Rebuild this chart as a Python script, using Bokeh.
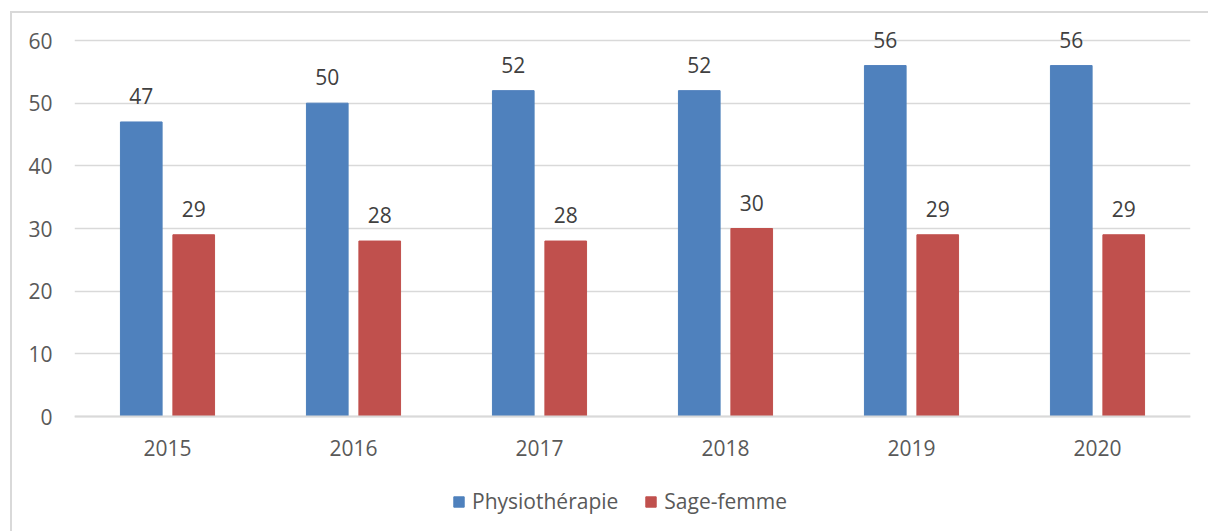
from bokeh.plotting import figure
from bokeh.models import ColumnDataSource, FactorRange, Range1d, LabelSet, Legend, LegendItem
from bokeh.core.properties import value
from bokeh.transform import dodge
from bokeh.embed import file_html
from bokeh.resources import INLINE

years = ["2015", "2016", "2017", "2018", "2019", "2020"]
physio = [47, 50, 52, 52, 56, 56]
sage = [29, 28, 28, 30, 29, 29]
y_ticks = [0, 10, 20, 30, 40, 50, 60]

FONT = "Open Sans"
FS = "21px"
BLUE = "#4F81BD"
RED = "#C0504D"
GRID = "#D9D9D9"

src = ColumnDataSource(dict(
    years=years, physio=physio, sage=sage,
    physio_lbl=[str(v) for v in physio], sage_lbl=[str(v) for v in sage],
))

bg = ("linear-gradient(#D9D9D9,#D9D9D9) 10px 11px / 2px 100% no-repeat, "
      "linear-gradient(#D9D9D9,#D9D9D9) 10px 11px / 100% 2px no-repeat")

PX = 376 / 60  # pixels per unit
p = figure(
    x_range=FactorRange(factors=years, range_padding=0),
    y_range=Range1d(-(531 - 416) / PX, (416 - 9) / PX),
    width=1208, height=531,
    output_backend="svg", toolbar_location=None,
    min_border_left=74, min_border_right=18, min_border_top=9, min_border_bottom=0,
    styles={"background": bg},
)
p.outline_line_color = None
p.border_fill_color = None
p.background_fill_color = None

r1 = p.vbar(x=dodge("years", -0.141, range=p.x_range), top="physio", width=0.224,
            source=src, fill_color=BLUE, line_color=BLUE)
r2 = p.vbar(x=dodge("years", 0.141, range=p.x_range), top="sage", width=0.224,
            source=src, fill_color=RED, line_color=RED)

for col, lbl, off in (("physio", "physio_lbl", -0.141), ("sage", "sage_lbl", 0.141)):
    ls = LabelSet(x=dodge("years", off, range=p.x_range), y=col, text=lbl, source=src,
                  text_align="center", text_baseline="alphabetic", y_offset=18,
                  text_font=value(FONT), text_font_size=FS, text_color="#404040")
    p.add_layout(ls)

p.yaxis.ticker = y_ticks
p.yaxis.axis_line_color = None
p.yaxis.major_tick_line_color = None
p.yaxis.minor_tick_line_color = None
p.yaxis.major_tick_out = 0
p.yaxis.major_tick_in = 0
p.yaxis.major_label_standoff = 22
p.yaxis.major_label_text_font = FONT
p.yaxis.major_label_text_font_size = FS
p.yaxis.major_label_text_color = "#595959"

p.xaxis.fixed_location = 0
p.xaxis.axis_line_color = GRID
p.xaxis.axis_line_width = 2
p.xaxis.major_tick_line_color = None
p.xaxis.minor_tick_line_color = None
p.xaxis.major_tick_out = 0
p.xaxis.major_tick_in = 0
p.xaxis.major_label_standoff = 23
p.xaxis.major_label_text_font = FONT
p.xaxis.major_label_text_font_size = FS
p.xaxis.major_label_text_color = "#595959"

p.xgrid.grid_line_color = None
p.ygrid.grid_line_color = GRID
p.ygrid.grid_line_width = 1.5

legend = Legend(
    items=[LegendItem(label="Physiothérapie", renderers=[r1]),
           LegendItem(label="Sage-femme", renderers=[r2])],
    orientation="horizontal", location=(378, 16),
    label_text_font=FONT, label_text_font_size=FS, label_text_color="#595959",
    glyph_width=13, glyph_height=13, spacing=26, label_standoff=7,
    border_line_color=None, background_fill_alpha=0, margin=0, padding=0,
)
p.add_layout(legend, "center")

open("out.html", "w").write(file_html(p, INLINE))
